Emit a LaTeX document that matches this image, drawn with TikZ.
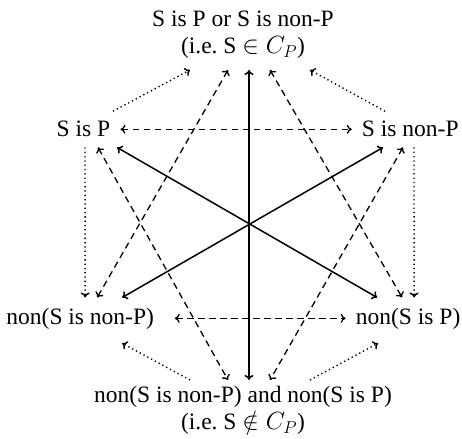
\documentclass[tikz,border=0pt]{standalone}
\usepackage{fontspec}
\setmainfont{Liberation Serif}
\usetikzlibrary{arrows.meta}
\begin{document}
\begin{tikzpicture}[x=1pt,y=-1pt,
  >={Computer Modern Rightarrow[length=5pt,width=9pt]},
  lbl/.style={inner xsep=10pt, inner ysep=10pt, font=\fontsize{23.5}{27}\selectfont},
  sol/.style={line width=1.5pt, <->},
  das/.style={line width=1.3pt, dash pattern=on 6.5pt off 4.5pt, <->},
  dot/.style={line width=1.4pt, dash pattern=on 1.3pt off 3pt, ->}]
\useasboundingbox (0,0) rectangle (462,438);
% nodes
\node[lbl, align=center, anchor=north, inner ysep=11pt] (tp) at (243,0)
  {S is P or S is non-P\\(i.e.\ S $\in C_P$)};
\node[lbl, anchor=base] (sp)   at (83.5,137) {S is P};
\node[lbl, anchor=base] (snp)  at (410.3,137) {S is non-P};
\node[lbl, anchor=base] (nsnp) at (80.2,324) {non(S is non-P)};
\node[lbl, anchor=base] (nsp)  at (408.1,324) {non(S is P)};
\node[lbl, align=center, anchor=north, inner ysep=6pt] (bt) at (243,380)
  {non(S is non-P) and non(S is P)\\(i.e.\ S $\notin C_P$)};
% solid connectors
\draw[sol] ([xshift=6pt]tp.south) -- ([xshift=6pt]bt.north);
\draw[sol] ([xshift=33.5pt]sp.south) -- ([xshift=-31pt]nsp.north);
\draw[sol] ([xshift=-27.3pt]snp.south) -- ([xshift=42pt]nsnp.north);
% dashed connectors
\draw[das] (sp.east) -- (snp.west);
\draw[das] ([xshift=10.6pt]nsnp.east) -- (nsp.west);
\draw[das] ([xshift=-15pt]tp.south) -- ([xshift=17pt]nsnp.north);
\draw[das] ([xshift=27pt]tp.south) -- ([xshift=-6pt]nsp.north);
\draw[das] ([xshift=14.5pt]sp.south) -- ([xshift=-15pt]bt.north);
\draw[das] ([xshift=-7.3pt]snp.south) -- ([xshift=27pt]bt.north);
% dotted connectors
\draw[dot] ([xshift=29.5pt]sp.north) -- ([xshift=-53pt]tp.south);
\draw[dot] ([xshift=-25.3pt]snp.north) -- ([xshift=67pt]tp.south);
\draw[dot] ([xshift=1.5pt]sp.south) -- ([xshift=5pt]nsnp.north);
\draw[dot] ([xshift=3.7pt]snp.south) -- ([xshift=6pt]nsp.north);
\draw[dot] ([xshift=-53pt]bt.north) -- ([xshift=42pt,yshift=-4pt]nsnp.south);
\draw[dot] ([xshift=67pt]bt.north) -- ([xshift=-30pt,yshift=-4pt]nsp.south);
\end{tikzpicture}
\end{document}
